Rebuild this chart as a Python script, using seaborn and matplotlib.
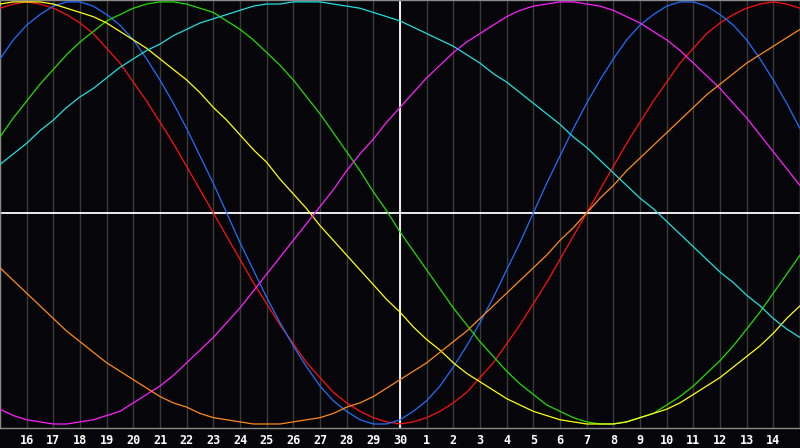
import pandas as pd
import numpy as np
import matplotlib
matplotlib.use("Agg")
import matplotlib.pyplot as plt
import seaborn as sns

# half-day positions (0..30) and the labels shown under the grid lines
days = [i / 2 for i in range(61)]
tick_pos = list(range(1, 30))
tick_labels = [str(d) for d in range(16, 31)] + [str(d) for d in range(1, 15)]
today = 15

# curve values every half day, scale -100..100
red = [97, 99, 100, 99, 97, 94, 90, 85, 78, 71, 62, 53, 43, 33, 22, 11, 0, -11, -22, -33,
       -43, -53, -62, -71, -78, -85, -90, -94, -97, -99, -100, -99, -97, -94, -90, -85, -78,
       -71, -62, -53, -43, -33, -22, -11, 0, 11, 22, 33, 43, 53, 62, 71, 78, 85, 90, 94, 97,
       99, 100, 99, 97]
blue = [73, 82, 89, 94, 98, 100, 100, 98, 94, 89, 82, 73, 63, 52, 40, 27, 14, 0, -14, -27,
        -40, -52, -63, -73, -82, -89, -94, -98, -100, -100, -98, -94, -89, -82, -73, -63, -52,
        -40, -27, -14, 0, 14, 27, 40, 52, 63, 73, 82, 89, 94, 98, 100, 100, 98, 94, 89, 82,
        73, 63, 52, 40]
green = [36, 45, 53, 61, 68, 75, 81, 86, 91, 94, 97, 99, 100, 100, 99, 97, 95, 91, 87, 82,
         76, 70, 63, 55, 47, 38, 29, 20, 10, 1, -9, -18, -27, -36, -45, -53, -61, -68, -75,
         -81, -86, -91, -94, -97, -99, -100, -100, -99, -97, -95, -91, -87, -82, -76, -70, -63,
         -55, -47, -38, -29, -20]
yellow = [99, 100, 100, 100, 99, 97, 95, 93, 90, 86, 82, 78, 73, 68, 63, 57, 50, 44, 37, 30,
          24, 16, 9, 2, -6, -13, -20, -27, -34, -41, -47, -54, -60, -65, -71, -76, -80, -84,
          -88, -91, -94, -96, -98, -99, -100, -100, -100, -99, -97, -95, -93, -90, -86, -82,
          -78, -73, -68, -63, -57, -50, -44]
cyan = [23, 28, 33, 39, 44, 50, 55, 59, 64, 69, 73, 77, 80, 84, 87, 90, 92, 94, 96, 98,
        99, 99, 100, 100, 100, 99, 98, 97, 95, 93, 91, 88, 85, 82, 79, 75, 71, 66, 62, 57,
        52, 47, 42, 36, 31, 25, 19, 13, 7, 2, -4, -10, -16, -22, -28, -33, -39, -44, -50,
        -55, -59]
magenta = [-93, -96, -98, -99, -100, -100, -99, -98, -96, -94, -90, -86, -82, -77, -71, -65,
           -59, -52, -45, -37, -29, -21, -13, -5, 3, 11, 20, 28, 35, 43, 50, 57, 64, 70, 76,
           81, 85, 89, 93, 96, 98, 99, 100, 100, 99, 98, 96, 93, 90, 86, 82, 77, 71, 65, 59,
           52, 45, 37, 29, 21, 13]
orange = [-26, -32, -38, -44, -50, -56, -61, -66, -71, -75, -79, -83, -87, -90, -92, -95,
          -97, -98, -99, -100, -100, -100, -99, -98, -97, -95, -92, -90, -87, -83, -79, -75,
          -71, -66, -61, -56, -50, -44, -38, -32, -26, -20, -13, -7, 0, 7, 13, 20, 26, 32,
          38, 44, 50, 56, 61, 66, 71, 75, 79, 83, 87]

series = {"red": red, "blue": blue, "green": green, "yellow": yellow,
          "cyan": cyan, "magenta": magenta, "orange": orange}
colors = {"red": "#ff1010", "blue": "#1f6fff", "green": "#22dd00", "yellow": "#ffff10",
          "cyan": "#20e0e0", "magenta": "#ff20ff", "orange": "#ff8a1a"}

df = pd.concat([pd.DataFrame({"day": days, "value": v, "cycle": k})
                for k, v in series.items()], ignore_index=True)

sns.set_style("dark")
bg = "#060509"

fig = plt.figure(figsize=(8, 4.48), dpi=100, facecolor=bg)
ax = fig.add_axes([0, 20 / 448, 1, 428 / 448])
ax.set_facecolor(bg)

# day grid
for p in tick_pos:
    ax.axvline(p, color="#3a3a3a", lw=1.0, zorder=1)

sns.lineplot(data=df, x="day", y="value", hue="cycle", palette=colors,
             linewidth=0.9, legend=False, ax=ax, zorder=3)

ax.axhline(0, color="white", lw=1.3, zorder=2)
ax.axvline(today, color="white", lw=1.3, zorder=2)

ax.set_xlim(0, 30)
ax.set_ylim(-101.9, 100.9)
ax.set_xticks(tick_pos)
ax.set_xticklabels(tick_labels)
ax.set_yticks([])
ax.set_xlabel("")
ax.set_ylabel("")
ax.tick_params(axis="x", length=0, pad=4, colors="white")
for lbl in ax.get_xticklabels():
    lbl.set_family("DejaVu Sans Mono")
    lbl.set_fontweight("bold")
    lbl.set_fontsize(8.5)
    lbl.set_color("white")
ax.grid(False)
for s in ax.spines.values():
    s.set_color("#8a8a8a")
    s.set_linewidth(1.0)

fig.savefig("out.png", dpi=100, facecolor=bg)
